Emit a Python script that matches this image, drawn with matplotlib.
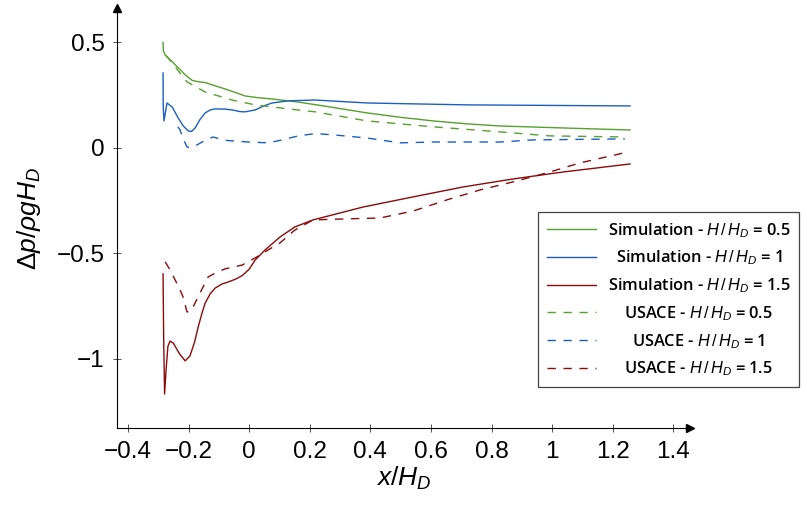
import matplotlib
matplotlib.use('Agg')
import matplotlib.pyplot as plt
from matplotlib.transforms import Affine2D

plt.rcParams['font.family'] = ['Liberation Sans', 'DejaVu Sans']
plt.rcParams['mathtext.fontset'] = 'custom'
plt.rcParams['mathtext.rm'] = 'Liberation Sans'
plt.rcParams['mathtext.it'] = 'Liberation Sans:italic'
plt.rcParams['mathtext.bf'] = 'Liberation Sans:bold'

# ---------------- data ----------------
sim05_x = [-0.284, -0.283, -0.277, -0.255, -0.234, -0.21, -0.188, -0.165, -0.145, -0.12, -0.089, -0.05,
           -0.013, 0.03, 0.076, 0.129, 0.168, 0.25, 0.389, 0.5, 0.607, 0.72, 0.828, 1.05, 1.257]
sim05_y = [0.50, 0.46, 0.44, 0.41, 0.38, 0.345, 0.32, 0.313, 0.31, 0.298, 0.284, 0.265,
           0.246, 0.238, 0.232, 0.223, 0.216, 0.198, 0.166, 0.145, 0.128, 0.114, 0.104, 0.094, 0.085]

sim1_x = [-0.284, -0.2835, -0.281, -0.271, -0.254, -0.234, -0.218, -0.201, -0.19, -0.178, -0.162,
          -0.145, -0.128, -0.112, -0.08, -0.056, -0.03, -0.013, 0.02, 0.05, 0.076, 0.129, 0.218,
          0.389, 0.719, 1.257]
sim1_y = [0.355, 0.20, 0.128, 0.213, 0.194, 0.142, 0.105, 0.081, 0.078, 0.095, 0.135,
          0.166, 0.18, 0.185, 0.184, 0.18, 0.172, 0.171, 0.18, 0.20, 0.213, 0.223, 0.227,
          0.213, 0.204, 0.199]

sim15_x = [-0.284, -0.282, -0.279, -0.274, -0.268, -0.261, -0.25, -0.23, -0.211, -0.195, -0.18,
           -0.168, -0.155, -0.145, -0.128, -0.112, -0.09, -0.069, -0.045, -0.023, 0.0, 0.02,
           0.053, 0.102, 0.15, 0.211, 0.376, 0.541, 0.706, 0.871, 1.036, 1.257]
sim15_y = [-0.597, -0.90, -1.166, -1.05, -0.94, -0.915, -0.925, -0.975, -1.009, -0.985, -0.92,
           -0.848, -0.78, -0.735, -0.69, -0.664, -0.645, -0.635, -0.622, -0.605, -0.575, -0.531,
           -0.483, -0.422, -0.375, -0.341, -0.28, -0.232, -0.185, -0.147, -0.114, -0.076]

us05_x = [-0.275, -0.244, -0.205, -0.145, -0.056, 0.02, 0.129, 0.218, 0.389, 0.607, 0.828, 0.993, 1.24]
us05_y = [0.44, 0.384, 0.313, 0.265, 0.227, 0.204, 0.185, 0.171, 0.128, 0.10, 0.076, 0.057, 0.052]

us1_x = [-0.235, -0.228, -0.215, -0.205, -0.195, -0.175, -0.155, -0.119, -0.08, -0.003, 0.063,
         0.109, 0.162, 0.218, 0.277, 0.389, 0.498, 0.607, 0.828, 0.937, 1.24]
us1_y = [0.10, 0.085, 0.035, 0.005, 0.0, 0.012, 0.028, 0.052, 0.036, 0.028, 0.024,
         0.038, 0.057, 0.068, 0.062, 0.047, 0.024, 0.028, 0.028, 0.038, 0.043]

us15_x = [-0.277, -0.26, -0.244, -0.23, -0.218, -0.205, -0.195, -0.185, -0.162, -0.135, -0.105,
          -0.079, -0.023, 0.02, 0.063, 0.102, 0.15, 0.211, 0.323, 0.432, 0.541, 0.653, 0.762,
          0.871, 0.983, 1.092, 1.251]
us15_y = [-0.54, -0.58, -0.626, -0.665, -0.706, -0.777, -0.775, -0.754, -0.687, -0.611, -0.588,
          -0.573, -0.555, -0.521, -0.483, -0.45, -0.39, -0.341, -0.336, -0.332, -0.299, -0.246,
          -0.199, -0.161, -0.118, -0.071, -0.019]

labels = ['Simulation - $H\\,/\\,H_D$ = 0.5', 'Simulation - $H\\,/\\,H_D$ = 1',
          'Simulation - $H\\,/\\,H_D$ = 1.5',
          'USACE - $H\\,/\\,H_D$ = 0.5', 'USACE - $H\\,/\\,H_D$ = 1', 'USACE - $H\\,/\\,H_D$ = 1.5']

xticks = [-0.4, -0.2, 0, 0.2, 0.4, 0.6, 0.8, 1.0, 1.2, 1.4]
xticklabels = ['\u22120.4', '\u22120.2', '0', '0.2', '0.4', '0.6', '0.8', '1', '1.2', '1.4']
yticks = [0.5, 0, -0.5, -1]
yticklabels = ['0.5', '0', '\u22120.5', '\u22121']

green = '#55a02e'
blue = '#1a5fc0'
red = '#8b0a0a'

# ---------------- figure ----------------
fig = plt.figure(figsize=(8.07, 5.07), dpi=100)
ax = fig.add_axes([117 / 807, 1 - 428 / 507, (690 - 117) / 807, (428 - 8) / 507])

lw = 1.0
dash = (6, 5.5)
ax.plot(sim05_x, sim05_y, color=green, lw=lw, label=labels[0])
ax.plot(sim1_x, sim1_y, color=blue, lw=lw, label=labels[1])
ax.plot(sim15_x, sim15_y, color=red, lw=lw, label=labels[2])
ax.plot(us05_x, us05_y, color=green, lw=lw, ls=(0, dash), label=labels[3])
ax.plot(us1_x, us1_y, color=blue, lw=lw, ls=(0, dash), label=labels[4])
ax.plot(us15_x, us15_y, color=red, lw=lw, ls=(0, dash), label=labels[5])

ax.set_xlim(-0.436, 1.455)
ax.set_ylim(-1.327, 0.663)

ax.set_xticks(xticks)
ax.set_xticklabels(xticklabels)
ax.set_yticks(yticks)
ax.set_yticklabels(yticklabels)
ax.tick_params(direction='inout', length=6, width=0.6, labelsize=17.5, pad=6, color='#333333')

for s in ['top', 'right']:
    ax.spines[s].set_visible(False)
for s in ['left', 'bottom']:
    ax.spines[s].set_linewidth(0.8)

ax.plot([1], [0], marker='>', ms=6, color='k', transform=ax.transAxes, clip_on=False)
ax.plot([0], [1], marker='^', ms=6, color='k', transform=ax.transAxes, clip_on=False)

ax.set_xlabel('$x/H_D$', fontsize=19, labelpad=2)
ax.set_ylabel('$\\Delta p/\\rho g H_D$', fontsize=19, labelpad=10)

leg = ax.legend(loc='upper left', bbox_to_anchor=(538 / 807, 1 - 212 / 507),
                bbox_transform=fig.transFigure, borderaxespad=0,
                prop={'family': ['Open Sans', 'DejaVu Sans'], 'weight': 'semibold', 'size': 11.8},
                handlelength=3.0, labelspacing=0.55, fancybox=False, framealpha=1,
                edgecolor='#444444', borderpad=0.55, handletextpad=0.7)
leg.get_frame().set_linewidth(0.9)

fig.canvas.draw()
r = fig.canvas.get_renderer()
widths = [t.get_window_extent(r).width for t in leg.get_texts()]
W = max(widths)
for t, w in zip(leg.get_texts(), widths):
    dx = (W - w) / 2
    t.set_transform(t.get_transform() + Affine2D().translate(dx, 0))

fig.savefig('out.png', dpi=100)
